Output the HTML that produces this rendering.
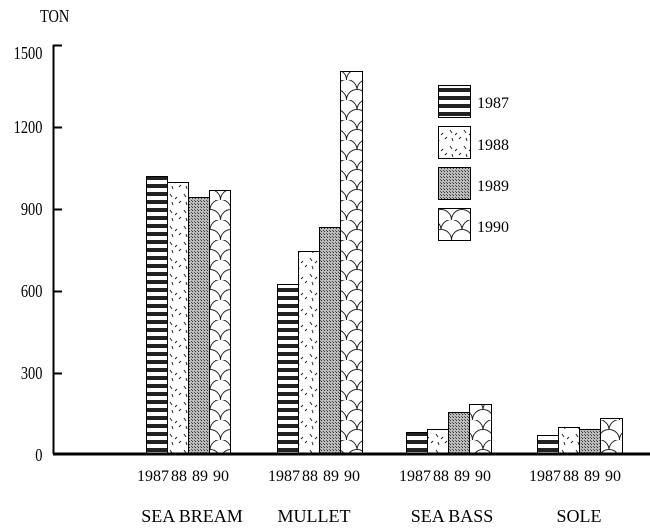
<!DOCTYPE html>
<html><head><style>body{margin:0;background:#fff}svg{display:block}</style></head><body>
<svg width="650" height="529" xmlns="http://www.w3.org/2000/svg" font-family="Liberation Serif, serif">
<defs>
<pattern id="p87" width="8" height="8" patternUnits="userSpaceOnUse"><rect width="8" height="8" fill="#fff"/><rect y="0" width="8" height="4" fill="#222"/></pattern>
<pattern id="p88" width="14" height="16" patternUnits="userSpaceOnUse"><rect width="14" height="16" fill="#fff"/><path d="M2 2l2 3M9 5l-2 2M4 10l1 3M11 11l2-2" stroke="#222" stroke-width="1"/></pattern>
<pattern id="p89" width="3" height="3" patternUnits="userSpaceOnUse"><rect width="3" height="3" fill="#bbb"/><rect width="1" height="1" fill="#333"/><rect x="2" y="2" width="1" height="1" fill="#555"/></pattern>
<pattern id="p90" width="21" height="20" patternUnits="userSpaceOnUse"><rect width="21" height="20" fill="#fff"/><path d="M0 10A10.5 10.5 0 0 1 21 10M-10.5 20A10.5 10.5 0 0 1 10.5 20A10.5 10.5 0 0 1 31.5 20M-10.5 0A10.5 10.5 0 0 1 10.5 0" fill="none" stroke="#222" stroke-width="1"/></pattern>
</defs>
<g font-size="18" transform="scale(0.8,1)">
<text x="50" y="22">TON</text>
<g text-anchor="end">
<text x="53" y="59">1500</text><text x="53" y="133">1200</text><text x="53" y="215">900</text><text x="53" y="297">600</text><text x="53" y="379">300</text><text x="53" y="461">0</text>
</g>
</g>
<path d="M53.5 45V454M53 45.5h9M53 127.5h9M53 209.5h9M53 291.5h9M53 373.5h9" stroke="#000" stroke-width="2" fill="none"/>
<g stroke="#000" stroke-width="1">
<rect x="146.5" y="176.5" width="21" height="277" fill="url(#p87)"/>
<rect x="167.5" y="182.5" width="21" height="271" fill="url(#p88)"/>
<rect x="188.5" y="197.5" width="21" height="256" fill="url(#p89)"/>
<rect x="209.5" y="190.5" width="21" height="263" fill="url(#p90)"/>
<rect x="277.5" y="284.5" width="21" height="169" fill="url(#p87)"/>
<rect x="298.5" y="251.5" width="21" height="202" fill="url(#p88)"/>
<rect x="319.5" y="227.5" width="21" height="226" fill="url(#p89)"/>
<rect x="340.5" y="71.5" width="22" height="382" fill="url(#p90)"/>
<rect x="406.5" y="432.5" width="21" height="21" fill="url(#p87)"/>
<rect x="427.5" y="429.5" width="21" height="24" fill="url(#p88)"/>
<rect x="448.5" y="412.5" width="21" height="41" fill="url(#p89)"/>
<rect x="469.5" y="404.5" width="22" height="49" fill="url(#p90)"/>
<rect x="537.5" y="435.5" width="21" height="18" fill="url(#p87)"/>
<rect x="558.5" y="427.5" width="21" height="26" fill="url(#p88)"/>
<rect x="579.5" y="429.5" width="21" height="24" fill="url(#p89)"/>
<rect x="600.5" y="418.5" width="22" height="35" fill="url(#p90)"/>
<rect x="438.5" y="85.5" width="32" height="32" fill="url(#p87)"/>
<rect x="438.5" y="126.5" width="32" height="32" fill="url(#p88)"/>
<rect x="438.5" y="167.5" width="32" height="32" fill="url(#p89)"/>
<rect x="438.5" y="208.5" width="32" height="32" fill="url(#p90)"/>
</g>
<path d="M53 454H650" stroke="#000" stroke-width="3"/>
<g font-size="16" text-anchor="middle">
<text x="493" y="108">1987</text><text x="493" y="150">1988</text><text x="493" y="191">1989</text><text x="493" y="232">1990</text>
<text x="153" y="481">1987</text><text x="179" y="481">88</text><text x="200" y="481">89</text><text x="221" y="481">90</text>
<text x="284" y="481">1987</text><text x="310" y="481">88</text><text x="331" y="481">89</text><text x="352" y="481">90</text>
<text x="415" y="481">1987</text><text x="441" y="481">88</text><text x="462" y="481">89</text><text x="483" y="481">90</text>
<text x="545" y="481">1987</text><text x="571" y="481">88</text><text x="592" y="481">89</text><text x="613" y="481">90</text>
<g font-size="18"><text x="192" y="522">SEA BREAM</text><text x="314" y="522">MULLET</text><text x="452" y="522">SEA BASS</text><text x="579" y="522">SOLE</text></g>
</g>
</svg>
</body></html>
